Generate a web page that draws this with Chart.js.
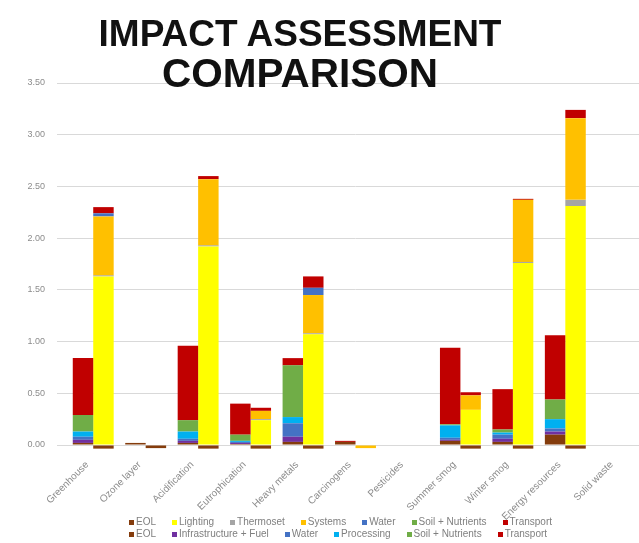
<!DOCTYPE html>
<html>
<head>
<meta charset="utf-8">
<script src="https://cdn.jsdelivr.net/npm/chart.js@4.4.1/dist/chart.umd.min.js"></script>
<style>
  html, body { margin:0; padding:0; background:#fff; overflow:hidden; }
  #wrap { position:relative; width:648px; height:543px; }
  .tl { position:absolute; left:0; width:600px; text-align:center; white-space:nowrap;
        font-family:"Liberation Sans", Arial, sans-serif; font-weight:bold;
        color:#111; pointer-events:none; }
  #t1 { top:15px; font-size:37px; line-height:37px; }
  #t2 { top:53px; font-size:40.5px; line-height:40.5px; }
  #legend { position:absolute; left:129px; top:516px; font-family:"Liberation Sans", Arial, sans-serif;
            font-size:10px; color:#7f7f7f; }
  .row { display:flex; gap:16px; height:12px; line-height:12px; white-space:nowrap; }
  .item { display:flex; align-items:center; }
  .sw { width:5px; height:5px; margin-right:2px; display:inline-block; }
</style>
</head>
<body>
<div id="wrap">
  <canvas id="c" width="648" height="543"></canvas>
  <div class="tl" id="t1">IMPACT ASSESSMENT</div>
  <div class="tl" id="t2">COMPARISON</div>
  <div id="legend"></div>
</div>
<script>
const categories = ['Greenhouse','Ozone layer','Acidification','Eutrophication','Heavy metals','Carcinogens','Pesticides','Summer smog','Winter smog','Energy resources','Solid waste'];

const yTicks = [0, 0.5, 1.0, 1.5, 2.0, 2.5, 3.0, 3.5];

// Left stack (system A)
const aEOL        = [0.02, 0.02, 0.02, 0.01, 0.03, 0.03, 0, 0.04, 0.03, 0.10, 0];
const aInfra      = [0.03, 0,    0.02, 0.01, 0.05, 0,    0, 0.01, 0.03, 0.03, 0];
const aWater      = [0.03, 0,    0.02, 0.01, 0.13, 0,    0, 0.02, 0.04, 0.03, 0];
const aProcessing = [0.05, 0,    0.07, 0.01, 0.06, 0,    0, 0.12, 0.02, 0.09, 0];
const aSoil       = [0.16, 0,    0.11, 0.06, 0.50, 0,    0, 0.01, 0.03, 0.19, 0];
const aTransport  = [0.55, 0,    0.72, 0.30, 0.07, 0.01, 0, 0.74, 0.39, 0.62, 0];

// Right stack (system B)
const bEOL        = [-0.035, -0.03, -0.035, -0.035, -0.035, 0, 0, -0.035, -0.035, -0.035, 0];
const bLighting   = [1.63, 0, 1.92, 0.24, 1.07, 0, 0, 0.34, 1.76, 2.31, 0];
const bThermoset  = [0.01, 0, 0.01, 0.01, 0.01, 0, 0, 0, 0.01, 0.06, 0];
const bSystems    = [0.57, 0, 0.64, 0.08, 0.37, -0.03, 0, 0.14, 0.60, 0.79, 0];
const bWater      = [0.03, 0, 0, 0, 0.07, 0, 0, 0, 0, 0, 0];
const bSoil       = [0, 0, 0, 0, 0, 0, 0, 0, 0, 0, 0];
const bTransport  = [0.06, 0, 0.03, 0.03, 0.11, 0, 0, 0.03, 0.01, 0.08, 0];

const C = { eol:'#843C0C', lighting:'#FFFF00', thermoset:'#A5A5A5', systems:'#FFC000',
            water:'#4472C4', soil:'#70AD47', transport:'#C00000', infra:'#7030A0', processing:'#00B0F0' };

function ds(label, data, color, stack) {
  return { label, data, backgroundColor: color, stack, borderWidth: 0, clip: false,
           categoryPercentage: 0.78, barPercentage: 1.0 };
}

const datasets = [
  ds('EOL', aEOL, C.eol, 'A'),
  ds('Infrastructure + Fuel', aInfra, C.infra, 'A'),
  ds('Water', aWater, C.water, 'A'),
  ds('Processing', aProcessing, C.processing, 'A'),
  ds('Soil + Nutrients', aSoil, C.soil, 'A'),
  ds('Transport', aTransport, C.transport, 'A'),
  ds('EOL', bEOL, C.eol, 'B'),
  ds('Lighting', bLighting, C.lighting, 'B'),
  ds('Thermoset', bThermoset, C.thermoset, 'B'),
  ds('Systems', bSystems, C.systems, 'B'),
  ds('Water', bWater, C.water, 'B'),
  ds('Soil + Nutrients', bSoil, C.soil, 'B'),
  ds('Transport', bTransport, C.transport, 'B'),
];

const chart = new Chart(document.getElementById('c'), {
  type: 'bar',
  data: { labels: categories, datasets },
  options: {
    responsive: false,
    animation: false,
    devicePixelRatio: 1,
    layout: { padding: { top: 83, left: 27, right: 4, bottom: 0 } },
    plugins: { legend: { display: false }, title: { display: false }, tooltip: { enabled: false } },
    scales: {
      x: {
        stacked: true,
        grid: { display: false },
        border: { display: false },
        ticks: { minRotation: 45, maxRotation: 45, labelOffset: -6, padding: 6,
                 color: '#8c8c8c', font: { family: 'Liberation Sans', size: 10 } },
        afterFit: s => { s.height = 98; }
      },
      y: {
        stacked: true,
        min: 0, max: 3.5,
        afterBuildTicks: s => { s.ticks = yTicks.map(v => ({ value: v })); },
        grid: { color: '#d9d9d9', lineWidth: 1, drawTicks: true, tickLength: 10, tickColor: '#d9d9d9' },
        border: { display: false },
        ticks: { padding: 12, color: '#8c8c8c', font: { family: 'Liberation Sans', size: 9 },
                 callback: v => Number(v).toFixed(2) },
        afterFit: s => { s.width = 40; }
      }
    }
  }
});

// HTML legend built from the chart's datasets: row 1 = stack B, row 2 = stack A
const leg = document.getElementById('legend');
['B','A'].forEach(st => {
  const row = document.createElement('div');
  row.className = 'row';
  chart.data.datasets.forEach(d => {
    if (d.stack !== st) return;
    const it = document.createElement('span');
    it.className = 'item';
    const sw = document.createElement('span');
    sw.className = 'sw';
    sw.style.background = d.backgroundColor;
    it.appendChild(sw);
    it.appendChild(document.createTextNode(d.label));
    row.appendChild(it);
  });
  leg.appendChild(row);
});
</script>
</body>
</html>
